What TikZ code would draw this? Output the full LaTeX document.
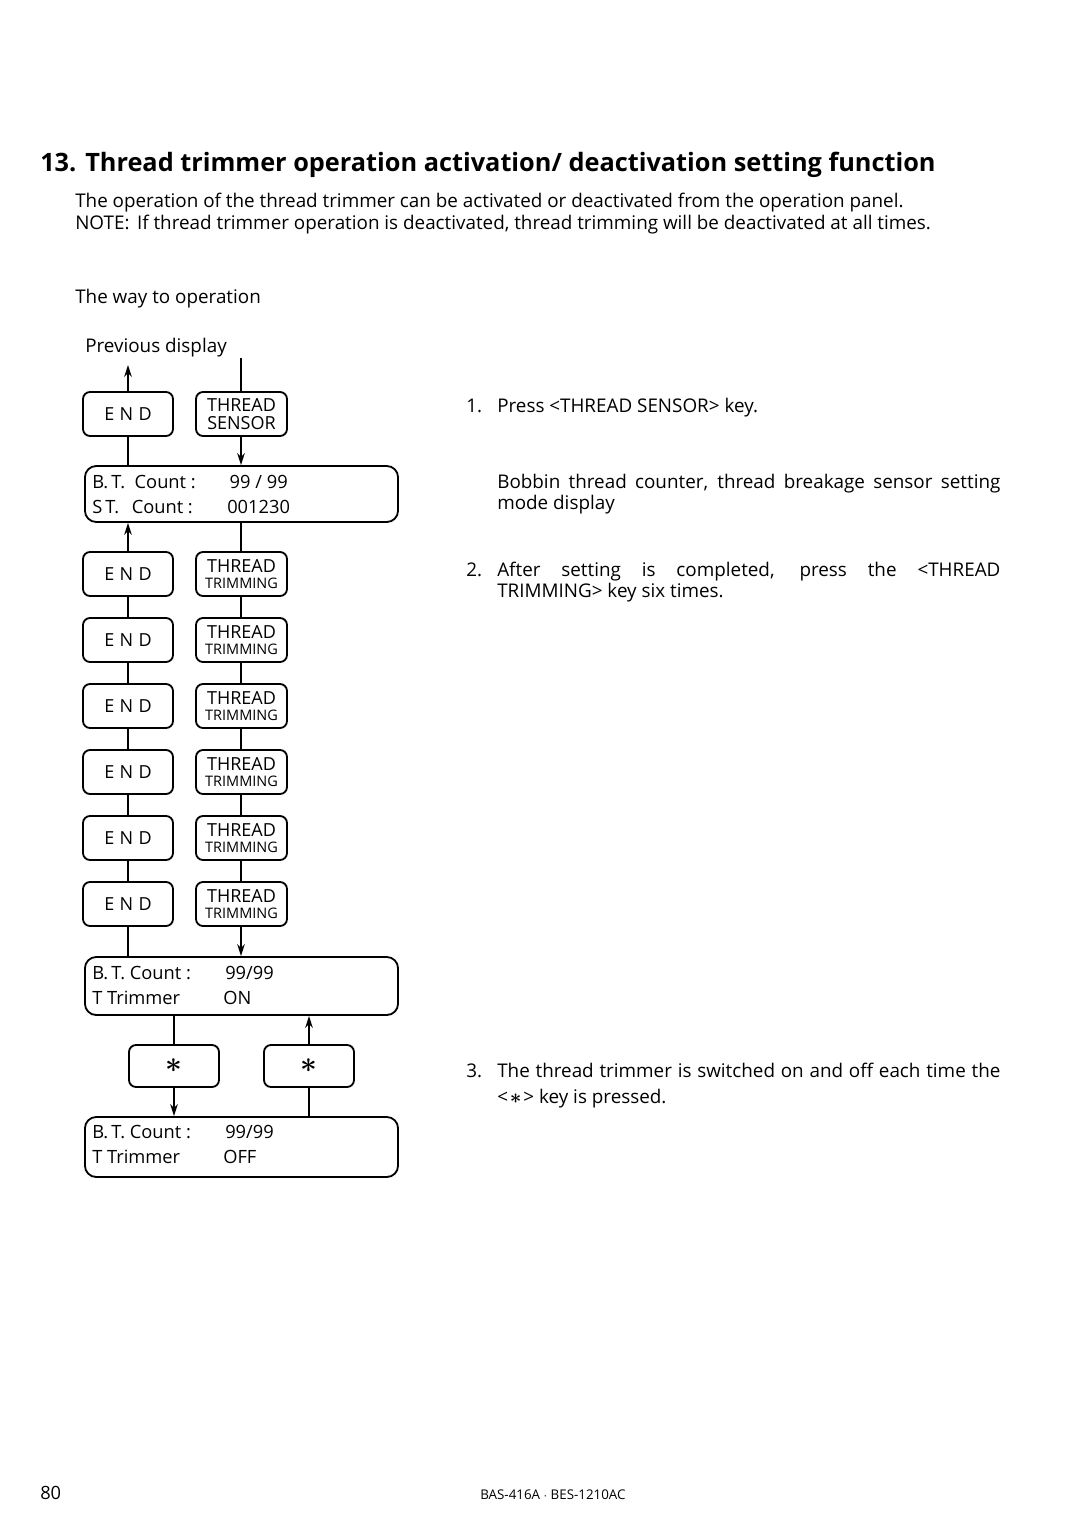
\documentclass[tikz,border=0pt]{standalone}
\usepackage{fontspec}
\setmainfont{Open Sans}
\usetikzlibrary{arrows.meta,positioning}

\newcommand{\bodyfont}{\fontsize{13.4}{15.6}\selectfont}
\newcommand{\dispfont}{\fontsize{13}{15}\selectfont}
\newcommand{\spreadline}[1]{\makebox[12.575cm][s]{#1}}
\newcommand{\starkey}{{\huge\boldmath$\ast$}}

\tikzset{
  keybox/.style={draw,rounded corners=5pt,line width=1.3pt,minimum width=2.25cm,
    minimum height=1.1cm,inner sep=0pt,align=center,font=\fontsize{12.8}{12.8}\selectfont},
  dispbox/.style={draw,rounded corners=8pt,line width=1.3pt,minimum width=7.825cm,inner sep=0pt},
  txt/.style={anchor=base west,inner sep=0pt,font=\bodyfont},
  disptxt/.style={anchor=base west,inner sep=0pt,font=\dispfont},
  flow/.style={line width=1.1pt},
  flowarr/.style={line width=1.1pt,-{Stealth[length=3mm,width=1.9mm]}},
}

\begin{document}
\begin{tikzpicture}[x=0.025cm,y=-0.025cm]
  \useasboundingbox (0,0) rectangle (1080,1516);

  % heading and intro
  \node[txt,font=\fontsize{18}{22}\selectfont\bfseries] (title) at (40,172)
    {13.\hspace{0.35em}Thread trimmer operation activation/ deactivation setting function};
  \node[txt] (intro1) at (75,208) {The operation of the thread trimmer can be activated or deactivated from the operation panel.};
  \node[txt] (intro2) at (75,230) {NOTE:\hspace{0.4em}If thread trimmer operation is deactivated, thread trimming will be deactivated at all times.};
  \node[txt] (way) at (75,304) {The way to operation};
  \node[txt] (prev) at (85,352) {Previous display};

  % first key row
  \node[keybox] (end1) at (128,414) {E\kern.3em N\kern.3em D};
  \node[keybox,minimum width=2.275cm] (sens) at (241.5,414) {THREAD\\SENSOR};
  \coordinate (prevup) at (128,365);
  \coordinate (sensin) at (241,358);
  \draw[flowarr] (end1.north) -- (prevup);
  \draw[flow] (sensin) -- (sensin |- sens.north);

  % first display
  \node[dispbox,minimum height=1.4cm] (disp1) at (241.5,494) {};
  \node[disptxt] (d1a) at (92,488) {B.\,T.\ \ Count :};
  \node[disptxt,anchor=base east] (d1b) at (288,488) {99 / 99};
  \node[disptxt] (d1c) at (92,513) {S\,T.\ \ \,Count :};
  \node[disptxt] (d1d) at (227,513) {001230};
  \draw[flow] (end1.south) -- (end1.south |- disp1.north);
  \draw[flowarr] (sens.south -| sensin) -- (sensin |- disp1.north);

  % THREAD TRIMMING presses
  \foreach \i in {2,...,7}{
    \node[keybox] (end\i) at (128,{574+66*(\i-2)}) {E\kern.3em N\kern.3em D};
    \node[keybox,minimum width=2.275cm] (thr\i) at (241.5,{574+66*(\i-2)})
      {THREAD\\[-1pt]{\fontsize{10.3}{10}\selectfont TRIMMING}};
  }
  \foreach \i/\j in {2/3,3/4,4/5,5/6,6/7}{
    \draw[flow] (end\i.south) -- (end\j.north);
    \draw[flow] (sensin |- thr\i.south) -- (sensin |- thr\j.north);
  }
  \draw[flowarr] (end2.north) -- (end2.north |- disp1.south);
  \draw[flow] (sensin |- disp1.south) -- (sensin |- thr2.north);

  % display after six presses
  \node[dispbox,minimum height=1.45cm] (disp2) at (241.5,986) {};
  \node[disptxt] (d2a) at (92,979) {B.\,T.\ Count :};
  \node[disptxt] (d2b) at (225,979) {99/99};
  \node[disptxt] (d2c) at (92,1004) {T Trimmer};
  \node[disptxt] (d2d) at (223,1004) {ON};
  \draw[flow] (end7.south) -- (end7.south |- disp2.north);
  \draw[flowarr] (sensin |- thr7.south) -- (sensin |- disp2.north);

  % star keys
  \node[keybox,minimum height=1.05cm] (star1) at (174,1066) {\starkey};
  \node[keybox,minimum height=1.05cm] (star2) at (309,1066) {\starkey};

  \node[dispbox,minimum height=1.5cm] (disp3) at (241.5,1147) {};
  \node[disptxt] (d3a) at (92,1138) {B.\,T.\ Count :};
  \node[disptxt] (d3b) at (225,1138) {99/99};
  \node[disptxt] (d3c) at (92,1163) {T Trimmer};
  \node[disptxt] (d3d) at (223,1163) {OFF};

  \draw[flow] (star1.north |- disp2.south) -- (star1.north);
  \draw[flowarr] (star1.south) -- (star1.south |- disp3.north);
  \draw[flow] (star2.south |- disp3.north) -- (star2.south);
  \draw[flowarr] (star2.north) -- (star2.north |- disp2.south);

  % explanations
  \node[txt] (n1) at (466,412) {1.};
  \node[txt] (s1) at (497,412) {Press <THREAD SENSOR> key.};
  \node[txt] (s1a) at (497,488) {\spreadline{Bobbin thread counter, thread breakage sensor setting}};
  \node[txt] (s1b) at (497,509) {mode display};
  \node[txt] (n2) at (466,576) {2.};
  \node[txt] (s2a) at (497,576) {\spreadline{After setting is completed, press the <THREAD}};
  \node[txt] (s2b) at (497,597) {TRIMMING> key six times.};
  \node[txt] (n3) at (466,1077) {3.};
  \node[txt] (s3a) at (497,1077) {\spreadline{The thread trimmer is switched on and off each time the}};
  \node[txt] (s3b) at (497,1103) {<\kern.1em{\Large\boldmath$\ast$}\kern.1em> key is pressed.};

  % footer
  \node[txt,font=\fontsize{13}{15}\selectfont] (page) at (40,1499) {80};
  \node[txt,font=\fontsize{9.5}{11}\selectfont] (code) at (480,1499) {BAS-416A $\cdot$ BES-1210AC};
\end{tikzpicture}
\end{document}
